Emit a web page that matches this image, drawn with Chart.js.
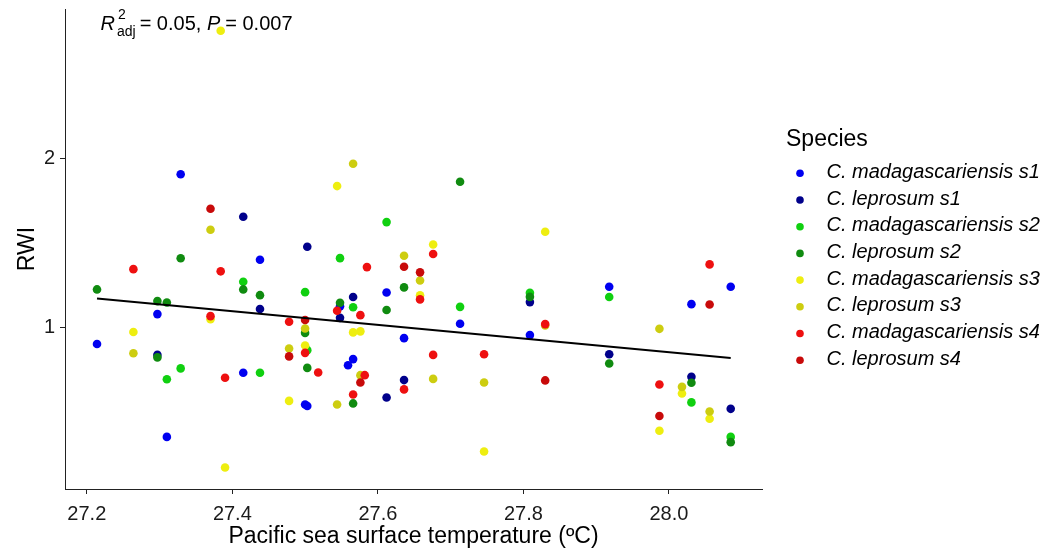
<!DOCTYPE html>
<html><head><meta charset="utf-8">
<script src="https://cdn.jsdelivr.net/npm/chart.js@4/dist/chart.umd.min.js"></script>
<style>html,body{margin:0;padding:0;background:#fff}</style>
</head><body>
<canvas id="c" width="1047" height="548"></canvas>
<script>
// ---- data ----
const seriesNames = [
  'C. madagascariensis s1','C. leprosum s1',
  'C. madagascariensis s2','C. leprosum s2',
  'C. madagascariensis s3','C. leprosum s3',
  'C. madagascariensis s4','C. leprosum s4'
];
const madS1_x = [27.214,27.329,27.297,27.310,27.415,27.438,27.500,27.503,27.548,27.566,27.559,27.612,27.636,27.713,27.809,27.918,28.031,28.085];
const madS1_y = [0.904,1.908,1.081,0.355,0.734,1.402,0.547,0.538,1.127,0.815,0.779,1.209,0.939,1.024,0.957,1.243,1.140,1.243];
const lepS1_x = [27.297,27.415,27.438,27.503,27.548,27.566,27.612,27.636,27.809,27.918,28.031,28.085];
const lepS1_y = [0.840,1.657,1.111,1.479,1.059,1.182,0.588,0.691,1.152,0.844,0.710,0.521];
const madS2_x = [27.310,27.329,27.415,27.438,27.500,27.503,27.548,27.566,27.612,27.713,27.809,27.918,28.031,28.085];
const madS2_y = [0.696,0.760,1.272,0.734,1.211,0.868,1.412,1.122,1.625,1.124,1.207,1.182,0.559,0.355];
const lepS2_x = [27.214,27.297,27.297,27.310,27.329,27.415,27.438,27.500,27.503,27.548,27.566,27.612,27.636,27.713,27.809,27.918,28.031,28.085];
const lepS2_y = [1.227,1.158,0.825,1.150,1.411,1.227,1.193,0.970,0.763,1.148,0.553,1.105,1.239,1.864,1.183,0.789,0.675,0.324];
const madS3_x = [27.264,27.370,27.384,27.390,27.478,27.500,27.544,27.566,27.576,27.658,27.676,27.746,27.830,27.987,28.018,28.056];
const madS3_y = [0.975,1.051,2.756,0.174,0.568,0.895,1.838,0.973,0.979,1.192,1.493,0.269,1.568,0.391,0.612,0.462];
const lepS3_x = [27.264,27.370,27.478,27.500,27.544,27.566,27.576,27.636,27.658,27.676,27.746,27.830,27.987,28.018,28.056];
const lepS3_y = [0.850,1.580,0.878,0.996,0.547,1.970,0.720,1.426,1.280,0.698,0.677,1.014,0.994,0.651,0.505];
const madS4_x = [27.264,27.384,27.370,27.390,27.478,27.500,27.518,27.544,27.576,27.582,27.585,27.566,27.636,27.658,27.676,27.676,27.746,27.830,27.987,28.056];
const madS4_y = [1.347,1.334,1.069,0.705,1.036,0.852,0.736,1.101,1.075,0.720,1.359,0.606,0.636,1.168,1.436,0.840,0.844,1.022,0.665,1.375];
const lepS4_x = [27.370,27.478,27.500,27.576,27.636,27.658,27.830,27.987,28.056];
const lepS4_y = [1.704,0.831,1.046,0.677,1.361,1.328,0.689,0.479,1.138];

const fit_x = [27.214, 28.085];
const fit_y = [1.174, 0.821];

const xTickValues = [27.2, 27.4, 27.6, 27.8, 28.0];
const yTickValues = [1, 2];

const seriesColors = ['#0000F0','#00008B','#10D010','#108B10','#EEEE10','#CDCD10','#EE1010','#C80A0A'];

// ---- build datasets ----
const xs = [madS1_x,lepS1_x,madS2_x,lepS2_x,madS3_x,lepS3_x,madS4_x,lepS4_x];
const ys = [madS1_y,lepS1_y,madS2_y,lepS2_y,madS3_y,lepS3_y,madS4_y,lepS4_y];
const zip = (a,b) => a.map((v,i)=>({x:v,y:b[i]}));

const datasets = [{
  type:'line', label:'fit', data: zip(fit_x, fit_y),
  borderColor:'#000', borderWidth:2, pointRadius:0, fill:false, order:0, isFit:true
}];
seriesNames.forEach((n,i)=>{
  datasets.push({
    type:'scatter', label:n, data: zip(xs[i], ys[i]),
    backgroundColor: seriesColors[i], borderWidth:0,
    pointRadius:4.3, pointHoverRadius:4.3, order: 8 - i
  });
});

const FONT = '"Liberation Sans", Arial, sans-serif';

const annotationPlugin = {
  id:'annot',
  afterDraw(chart){
    const ctx = chart.ctx;
    ctx.save();
    ctx.fillStyle = '#000';
    ctx.textBaseline = 'alphabetic';
    ctx.textAlign = 'left';
    let x = 100.5, base = 29.5;
    ctx.font = 'italic 20px ' + FONT; ctx.fillText('R', x, base); x += ctx.measureText('R').width + 2;
    ctx.font = '14px ' + FONT;
    ctx.fillText('2', x + 1, base - 11);
    ctx.fillText('adj', x, base + 6);
    x += ctx.measureText('adj').width + 4;
    ctx.font = '20px ' + FONT; ctx.fillText('= 0.05, ', x, base); x += ctx.measureText('= 0.05, ').width;
    ctx.font = 'italic 20px ' + FONT; ctx.fillText('P', x, base); x += ctx.measureText('P').width + 5;
    ctx.font = '20px ' + FONT; ctx.fillText('= 0.007', x, base);

    // legend
    ctx.font = '23px ' + FONT;
    ctx.fillText('Species', 786, 146);
    ctx.textBaseline = 'middle';
    chart.data.datasets.filter(d=>!d.isFit).forEach((d,i)=>{
      const cy = 173.3 + i*26.7;
      ctx.beginPath();
      ctx.fillStyle = d.backgroundColor;
      ctx.arc(800, cy, 3.8, 0, Math.PI*2);
      ctx.fill();
      ctx.fillStyle = '#000';
      ctx.font = 'italic 20px ' + FONT;
      ctx.fillText(d.label, 826.5, cy - 1);
    });
    ctx.restore();
  }
};

const zeroPad = s => { s.paddingTop = 0; s.paddingBottom = 0; s.paddingLeft = 0; s.paddingRight = 0; };

new Chart(document.getElementById('c'), {
  data:{datasets},
  options:{
    responsive:false, devicePixelRatio:1, animation:false,
    events:[],
    layout:{padding:{left:0,right:285,top:9,bottom:0}},
    plugins:{legend:{display:false}, tooltip:{enabled:false}},
    scales:{
      x:{type:'linear', min:27.170, max:28.128,
        afterBuildTicks:s=>{s.ticks = xTickValues.map(v=>({value:v}));},
        afterFit:s=>{s.height = 59; zeroPad(s);},
        ticks:{callback:v=>Number(v).toFixed(1), font:{size:20, family:FONT}, color:'#1a1a1a', padding:8, maxRotation:0, autoSkip:false},
        grid:{display:true, drawOnChartArea:false, drawTicks:true, tickLength:5, color:'#222', lineWidth:1},
        border:{display:true, color:'#222', width:1},
        title:{display:true, text:'Pacific sea surface temperature (ºC)', font:{size:23, family:FONT, lineHeight:1.0}, color:'#000', padding:{top:0,bottom:0}}
      },
      y:{type:'linear', min:0.047, max:2.885,
        afterBuildTicks:s=>{s.ticks = yTickValues.map(v=>({value:v}));},
        afterFit:s=>{s.width = 65; zeroPad(s);},
        ticks:{callback:v=>String(v), font:{size:20, family:FONT}, color:'#1a1a1a', padding:5},
        grid:{display:true, drawOnChartArea:false, drawTicks:true, tickLength:5, color:'#222', lineWidth:1},
        border:{display:true, color:'#222', width:1},
        title:{display:true, text:'RWI', font:{size:23, family:FONT}, color:'#000', padding:{top:14,bottom:0}}
      }
    }
  },
  plugins:[annotationPlugin]
});
</script>
</body></html>
